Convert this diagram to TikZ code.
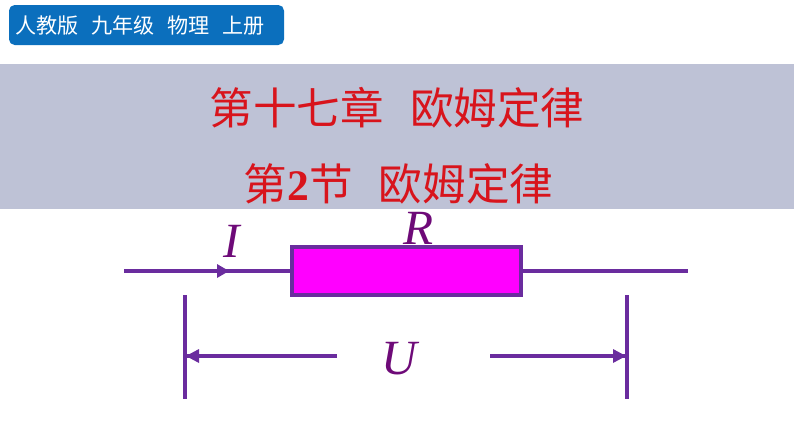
\documentclass[tikz,border=0pt]{standalone}
\usepackage{fontspec}
\setmainfont{Liberation Serif}
\newfontfamily\cjk{Noto Sans CJK SC}
\usetikzlibrary{positioning}
\definecolor{badgeblue}{HTML}{0B6FBD}
\definecolor{bandgray}{HTML}{BEC2D6}
\definecolor{wirepurple}{HTML}{6A2C9E}
\definecolor{letterpurple}{HTML}{6E0A78}
\definecolor{titlered}{HTML}{D8141C}
\definecolor{resmagenta}{HTML}{FF00FF}
\tikzset{
  wire/.style={draw=wirepurple,line width=3.4pt},
  letter/.style={text=letterpurple,font=\fontsize{35}{35}\selectfont\itshape,inner sep=0pt},
  title/.style={text=titlered,font=\cjk\fontsize{31}{31}\selectfont,inner sep=0pt}
}
\begin{document}
\begin{tikzpicture}[x=0.025cm,y=-0.025cm]
\useasboundingbox (0,0) rectangle (794,447);
\fill[bandgray] (0,64) rectangle (794,209);
\node[fill=badgeblue,rounded corners=4pt,minimum width=275*0.025cm,minimum height=40*0.025cm,inner sep=0pt] (badge) at (146.5,25) {};
\node[text=white,font=\cjk\fontsize{15}{15}\selectfont,inner sep=0pt] (badgetext) at (140,26) {人教版\hspace{0.6em}九年级\hspace{0.6em}物理\hspace{0.6em}上册};
\node[title] (chapter) at (397,108) {第十七章\hspace{0.6em}欧姆定律};
\node[title] (section) at (398.5,184) {第{\rmfamily\bfseries 2}节\hspace{0.6em}欧姆定律};
\node[draw=wirepurple,line width=3.4pt,fill=resmagenta,minimum width=229*0.025cm,minimum height=48*0.025cm,inner sep=0pt] (res) at (406.5,271) {};
\coordinate (wl) at (124,271);
\coordinate (wr) at (688,271);
\coordinate (tip) at (229,271);
\draw[wire] (wl) -- (res.west);
\draw[wire] (res.east) -- (wr);
\fill[wirepurple] (tip) -- ++(-12,-7) -- ++(0,14) -- cycle;
\node[letter] (curr) at (232,241) {I};
\node[letter] (resname) at (419,228) {R};
\node[letter] (volt) at (399,359) {U};
\coordinate (ltop) at (185,295);
\coordinate (lbot) at (185,399);
\coordinate (rtop) at (627,295);
\coordinate (rbot) at (627,399);
\coordinate (lfoot) at (337,356);
\coordinate (rfoot) at (490,356);
\coordinate (lhead) at (186,356);
\coordinate (rhead) at (626,356);
\draw[wire] (ltop) -- (lbot);
\draw[wire] (rtop) -- (rbot);
\draw[wire,line width=3pt] (lfoot) -- (lhead);
\draw[wire,line width=3pt] (rfoot) -- (rhead);
\fill[wirepurple] (lhead) -- ++(13,-7) -- ++(0,14) -- cycle;
\fill[wirepurple] (rhead) -- ++(-13,-7) -- ++(0,14) -- cycle;
\end{tikzpicture}
\end{document}
